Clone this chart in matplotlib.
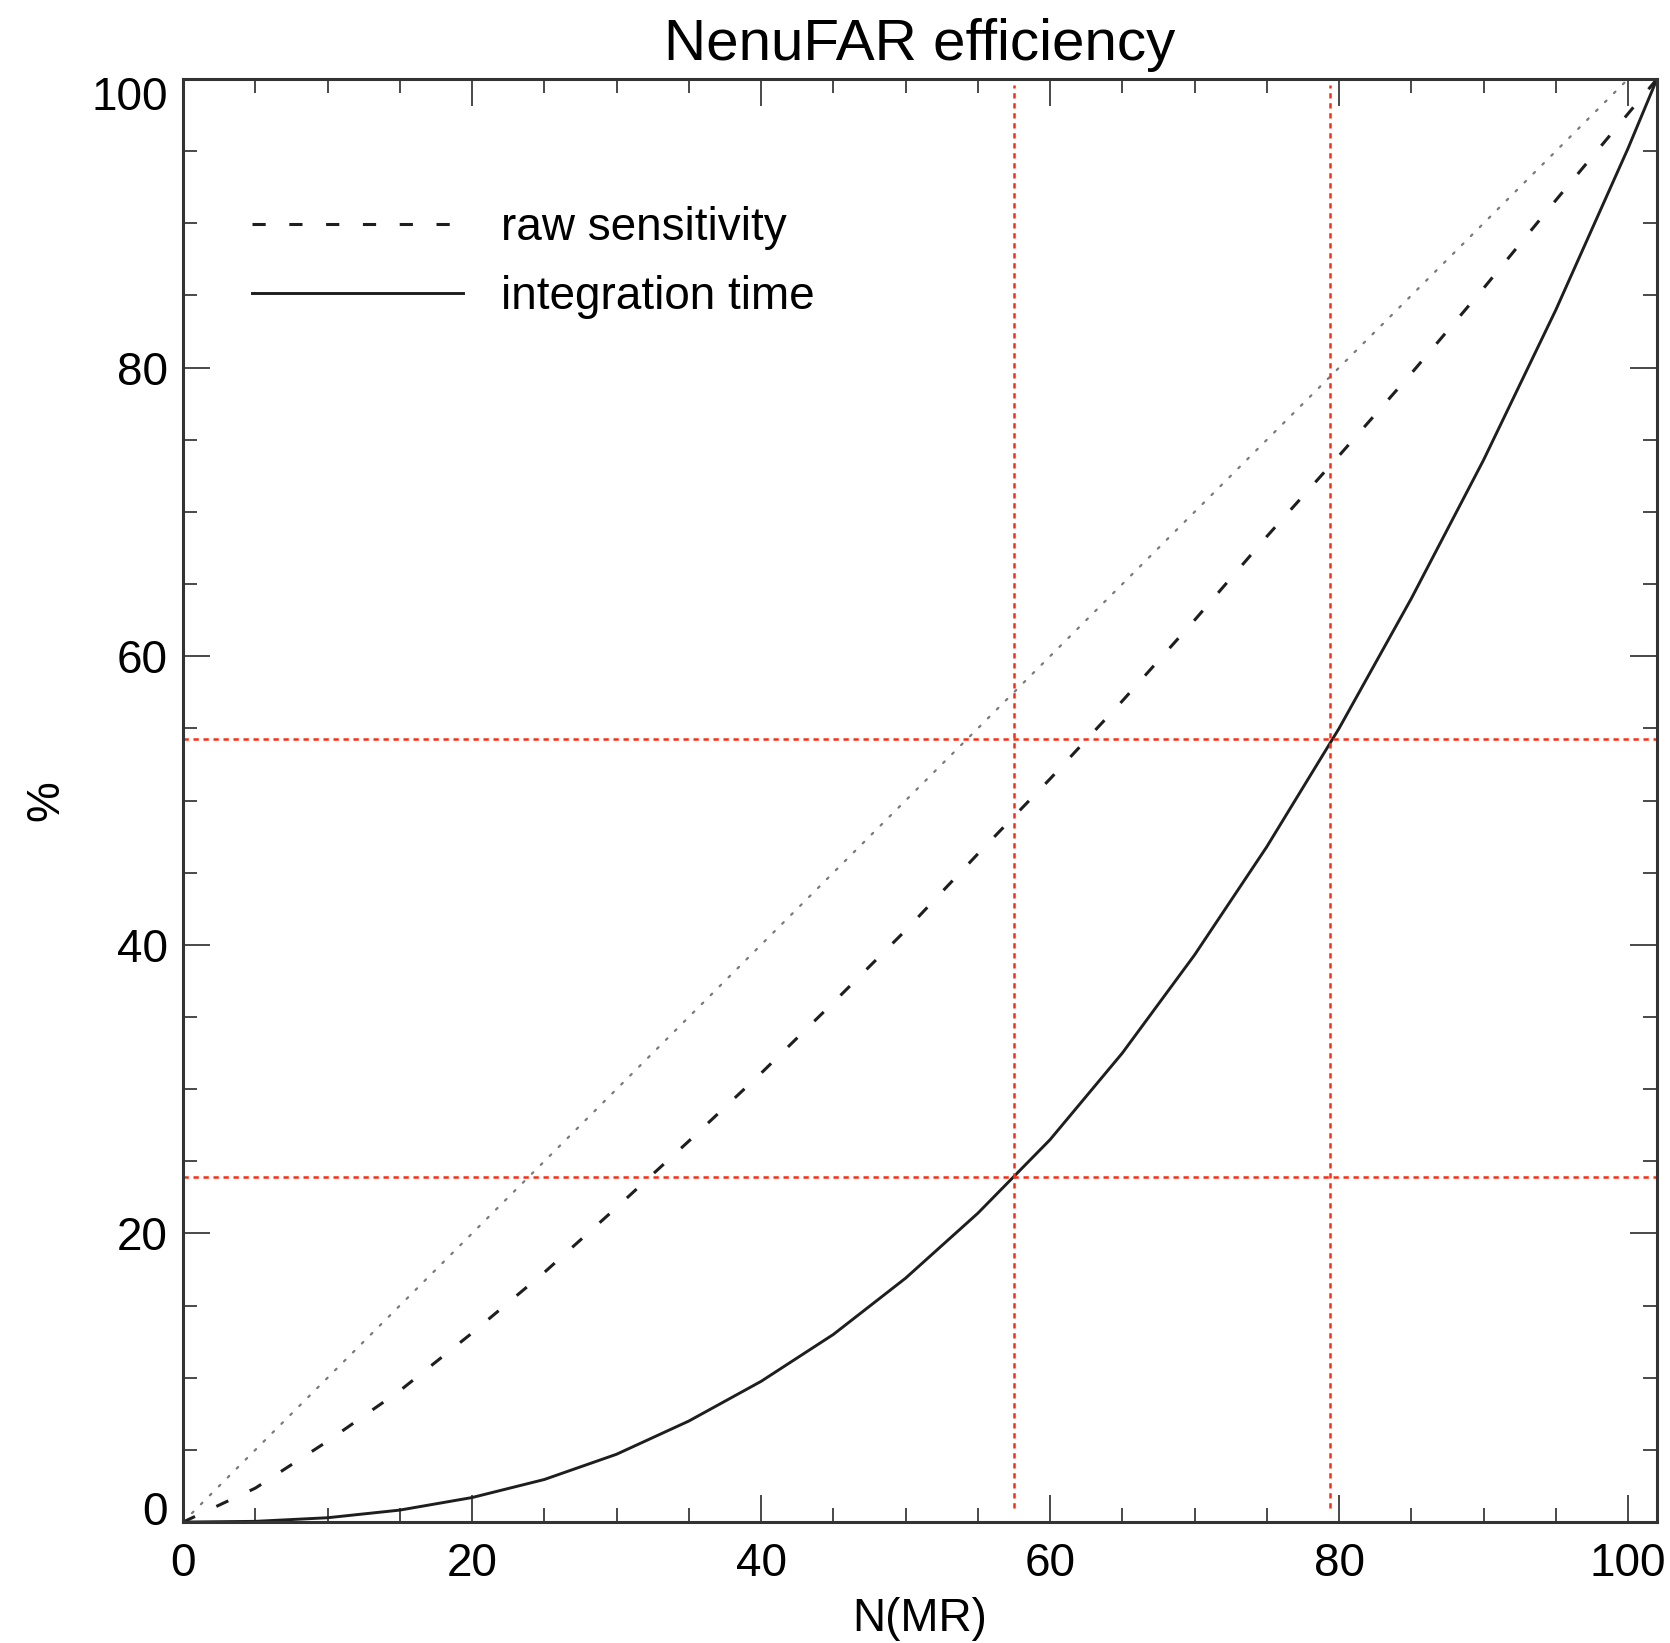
import matplotlib
matplotlib.use("Agg")
import matplotlib.pyplot as plt
from matplotlib.ticker import MultipleLocator, FuncFormatter

plt.rcParams['font.family'] = ['Liberation Sans', 'DejaVu Sans']
plt.rcParams['lines.scale_dashes'] = False

# Number of mini-arrays used
n_mr = [0, 5, 10, 15, 20, 25, 30, 35, 40, 45, 50, 55, 60, 65, 70, 75, 80, 85, 90, 95, 100, 102]
# Raw sensitivity (%)
raw_sensitivity = [0, 2.35, 5.6, 9.1, 13.1, 17.3, 21.8, 26.4, 31.1, 36.0, 41.0, 46.3,
                   51.5, 56.9, 62.5, 68.3, 73.9, 79.6, 85.5, 91.6, 97.6, 100]
# Integration time efficiency (%)
integration_time = [0, 0.05, 0.3, 0.83, 1.7, 2.95, 4.7, 7.0, 9.75, 13.0, 16.9, 21.4,
                    26.5, 32.5, 39.3, 46.8, 55.0, 64.0, 73.6, 84.0, 95.2, 100]
# Linear reference
linear_x = [0, 100]
linear_y = [0, 100]

# Reference markers
vlines_x = [57.5, 79.4]
hlines_y = [23.9, 54.3]

title = "NenuFAR efficiency"
xlabel = "N(MR)"
ylabel = "%"
legend_labels = ["raw sensitivity", "integration time"]
y_ticks = [0, 20, 40, 60, 80, 100]

fig = plt.figure(figsize=(16.7, 16.43), dpi=100)
ax = fig.add_axes([0.1096, 0.0736, 0.8826, 0.8783])

curve_color = '#1e1e1e'
red = '#ff2a10'

ax.plot(linear_x, linear_y, color='#7a7a7a', lw=1.6, linestyle=(0, (1.5, 7.6)),
        solid_capstyle='round', dash_capstyle='round')
dashed, = ax.plot(n_mr, raw_sensitivity, color=curve_color, lw=2.2,
                  linestyle=(0, (9.5, 17.0)), label=legend_labels[0])
solid, = ax.plot(n_mr, integration_time, color=curve_color, lw=2.1,
                 label=legend_labels[1])

for xv in vlines_x:
    ax.plot([xv, xv], [1.0, 99.6], color=red, lw=1.8, linestyle=(0, (3.8, 3.4)))
for yv in hlines_y:
    ax.plot([0, 102], [yv, yv], color=red, lw=1.8, linestyle=(0, (3.8, 3.4)))

ax.set_xlim(0, 102)
ax.set_ylim(0, 100)
ax.xaxis.set_major_locator(MultipleLocator(20))
ax.xaxis.set_minor_locator(MultipleLocator(5))
ax.set_yticks(y_ticks)
ax.yaxis.set_minor_locator(MultipleLocator(5))

# End labels of the y axis are pulled inside the frame height
y_lo, y_hi = y_ticks[0], y_ticks[-1]
ax.yaxis.set_major_formatter(FuncFormatter(
    lambda v, pos: '' if v in (y_lo, y_hi) else f'{v:g}'))
for v, dy in ((y_lo, 10), (y_hi, -10)):
    ax.annotate(f'{v:g}', xy=(0, v), xycoords=('axes fraction', 'data'),
                xytext=(-11, dy), textcoords='offset points',
                ha='right', va='center_baseline', fontsize=33)

ax.tick_params(which='both', direction='in', top=True, right=True,
               color='#3a3a3a', width=1.3)
ax.tick_params(which='major', length=19.5, labelsize=33)
ax.tick_params(which='minor', length=10)
ax.tick_params(axis='x', which='major', pad=14)
ax.tick_params(axis='y', which='major', pad=11)

for sp in ax.spines.values():
    sp.set_linewidth(2.2)
    sp.set_color('#333333')

ax.set_title(title, fontsize=42, pad=14)
ax.set_xlabel(xlabel, fontsize=33, labelpad=8)
ax.set_ylabel(ylabel, fontsize=33, labelpad=35)

ax.legend(handles=[dashed, solid], loc='upper left', bbox_to_anchor=(0.047, 0.912),
          frameon=False, fontsize=33, handlelength=4.6, handletextpad=0.82,
          labelspacing=0.55, borderpad=0, borderaxespad=0)

fig.savefig("out.png", dpi=100)
